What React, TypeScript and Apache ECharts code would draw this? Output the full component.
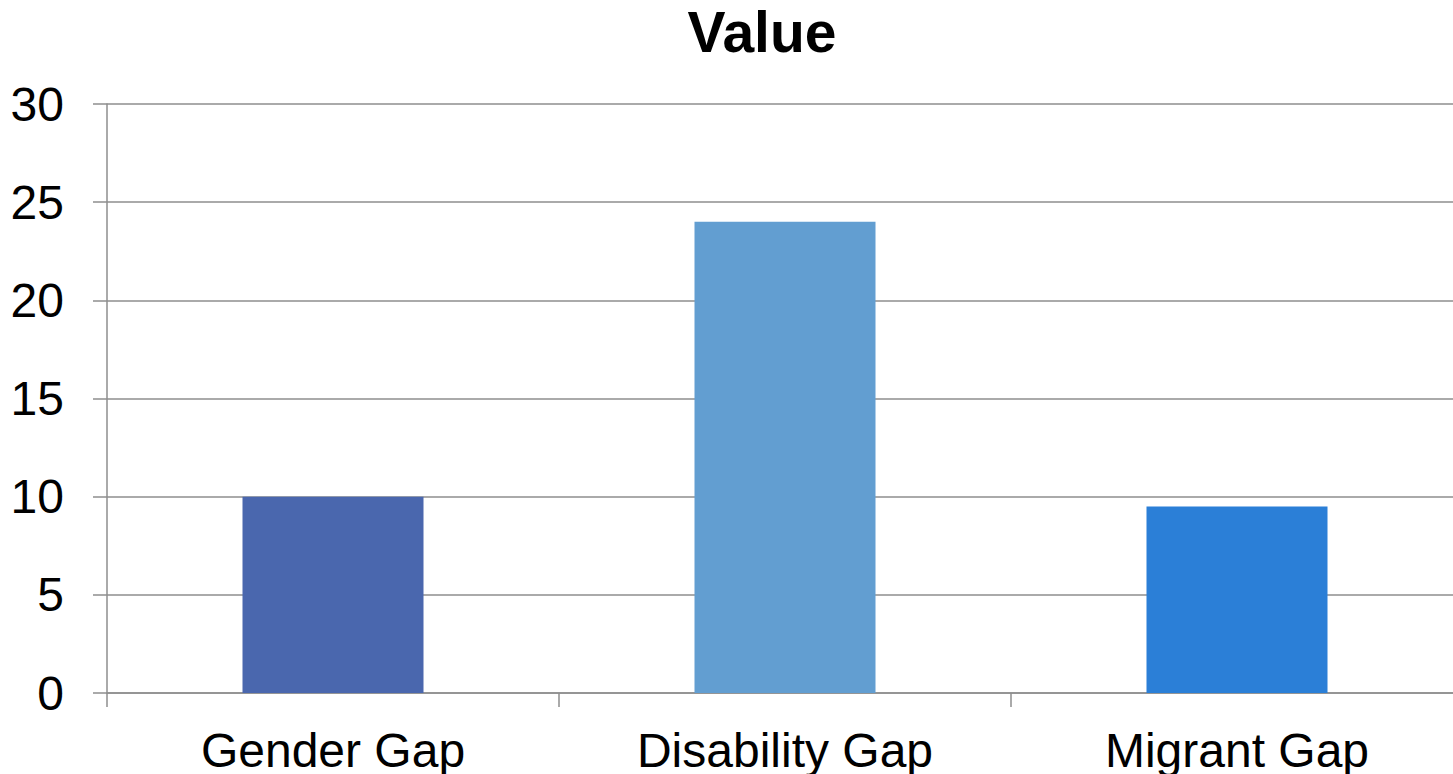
import React, { useEffect, useRef } from "react";
import * as echarts from "echarts";

const categories = ["Gender Gap", "Disability Gap", "Migrant Gap"];
const values = [10, 24, 9.5];
const barColors = ["#4a67ae", "#629ed1", "#2b7fd7"];
const titleText = "Value";

export default function App() {
  const ref = useRef<HTMLDivElement>(null);
  useEffect(() => {
    if (!ref.current) return;
    const chart = echarts.init(ref.current, null, { renderer: "svg" });
    const font = "'Liberation Sans', Arial, sans-serif";
    chart.setOption({
      animation: false,
      backgroundColor: "#ffffff",
      title: {
        text: titleText,
        left: 757,
        top: -2,
        textAlign: "center",
        textStyle: { fontFamily: font, fontSize: 57, fontWeight: "bold", color: "#000" },
      },
      grid: { left: 107, right: 0, top: 104, bottom: 81, containLabel: false },
      xAxis: {
        type: "category",
        data: categories,
        axisLine: { show: true, lineStyle: { color: "#8e8e8e", width: 1.5 } },
        axisTick: { show: true, length: 14, lineStyle: { color: "#8e8e8e", width: 1.5 } },
        axisLabel: { fontFamily: font, fontSize: 48, color: "#000", margin: 33 },
      },
      yAxis: {
        type: "value",
        min: 0,
        max: 30,
        interval: 5,
        axisLine: { show: true, lineStyle: { color: "#8e8e8e", width: 1.5 } },
        axisTick: { show: true, length: 14, lineStyle: { color: "#8e8e8e", width: 1.5 } },
        splitLine: { show: true, lineStyle: { color: "#8e8e8e", width: 1.5 } },
        axisLabel: { fontFamily: font, fontSize: 48, color: "#000", margin: 43 },
      },
      series: [
        {
          type: "bar",
          barWidth: 181,
          data: values.map((v, i) => ({ value: v, itemStyle: { color: barColors[i] } })),
        },
      ],
    });
    return () => chart.dispose();
  }, []);
  return (
    <div
      ref={ref}
      style={{ position: "fixed", left: 0, top: 0, width: 1463, height: 774, background: "#fff" }}
    />
  );
}
